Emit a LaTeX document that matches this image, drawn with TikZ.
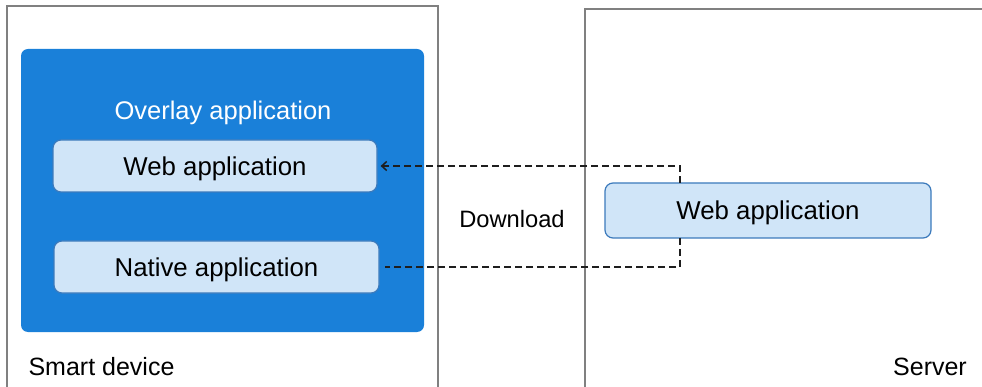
\documentclass[tikz,border=0pt]{standalone}
\usepackage{fontspec}
\setmainfont{Liberation Sans}
\usetikzlibrary{arrows.meta}
\definecolor{frame}{RGB}{128,128,128}
\definecolor{overlayblue}{RGB}{26,128,217}
\definecolor{appfill}{RGB}{208,229,248}
\definecolor{appedge}{RGB}{60,122,188}
\definecolor{linkgray}{RGB}{30,30,30}
\tikzset{
  every node/.style={font=\fontsize{25}{30}\selectfont, inner sep=0pt},
  area/.style={draw=frame, line width=1.5pt},
  appbox/.style={draw=appedge, fill=appfill, line width=1.2pt, rounded corners=8pt,
    minimum height=#1, text height=19pt, text depth=0pt, font=\fontsize{25.8}{30}\selectfont},
  label/.style={anchor=base},
  link/.style={draw=linkgray, line width=1.5pt, dash pattern=on 7pt off 4pt}
}
\begin{document}
\begin{tikzpicture}[x=1pt, y=-1pt]
  \useasboundingbox (0,0) rectangle (982,387);
  \clip (0,0) rectangle (982,387);
  \fill[white] (0,0) rectangle (982,387);

  % device and server areas
  \draw[area] (7,6) rectangle (438,420);
  \draw[area] (585,9) rectangle (1010,420);
  \node[label] (devlabel) at (101.5,375) {Smart device};
  \node[label] (srvlabel) at (930,375) {Server};

  % overlay application container
  \node[fill=overlayblue, rounded corners=7pt, minimum width=403pt, minimum height=283pt]
    (overlay) at (222.5,190.5) {};
  \node[label, text=white, font=\fontsize{25.5}{30}\selectfont] (overlaylabel) at (223,120) {Overlay application};

  \node[appbox=52pt, minimum width=324pt] (wl) at (215,166) {Web application};
  \node[appbox=52pt, minimum width=325pt] (nl) at (216.5,267) {Native application};

  \node[appbox=55pt, minimum width=326pt] (srv) at (768,210.5) {Web application};

  % download links
  \coordinate (up) at (680,183);
  \coordinate (down) at (680,238);
  \draw[link, -{Straight Barb[length=5pt, width=9pt, line width=1.5pt]}]
    (up) |- ([xshift=3pt]wl.east);
  \draw[link] (down) |- ([xshift=5pt]nl.east);
  \node[label, font=\fontsize{23.7}{28}\selectfont] (dl) at (512,228) {Download};
\end{tikzpicture}
\end{document}
